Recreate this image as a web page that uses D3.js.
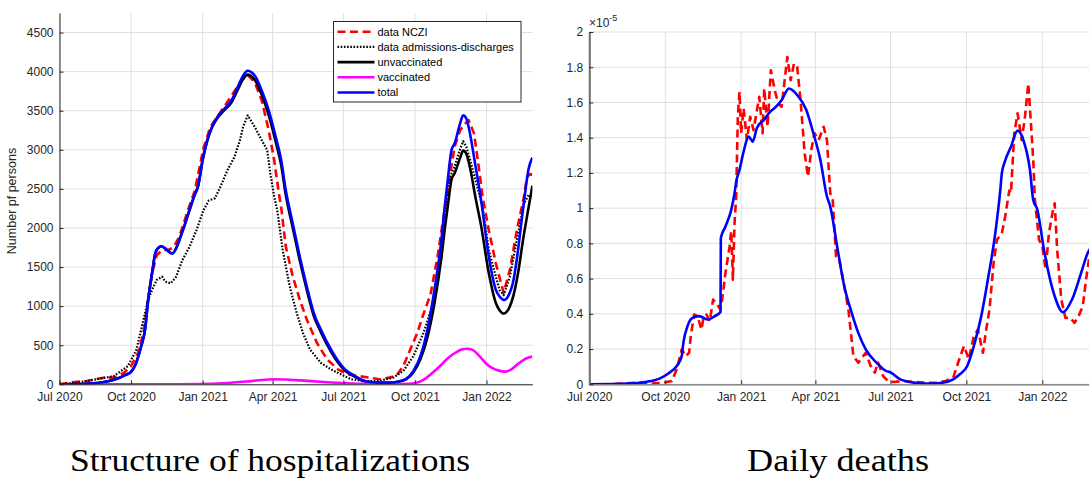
<!DOCTYPE html>
<html>
<head>
<meta charset="utf-8">
<script src="https://cdn.jsdelivr.net/npm/d3@7"></script>
<style>
  html, body { margin: 0; padding: 0; background: #fff; }
  svg { display: block; }
  .tick text { font-family: "Liberation Sans", Arial, sans-serif; font-size: 12px; fill: #262626; }
</style>
</head>
<body>
<svg id="fig" width="1089" height="479"></svg>
<script>
// Days are counted from 1 July 2020.
const tickDates = ["2020-07-01", "2020-10-01", "2021-01-01", "2021-04-01", "2021-07-01", "2021-10-01", "2022-01-01"];
const hospTicks = [0, 500, 1000, 1500, 2000, 2500, 3000, 3500, 4000, 4500];
const deathTicks = [0, 0.2, 0.4, 0.6, 0.8, 1, 1.2, 1.4, 1.6, 1.8, 2];

// Hospitalised persons: [day, persons]
const hospNczi = [[0,0],[12,21],[35,42],[57,85],[70,85],[83,148],[92,233],[101,402],[108,657],[112,953],[119,1420],[125,1652],[132,1716],[141,1724],[147,1758],[154,1885],[165,2224],[174,2479],[185,3017],[194,3292],[207,3483],[220,3674],[234,3885],[242,3955],[251,3864],[260,3631],[269,3250],[276,2869],[282,2445],[285,2267],[291,1758],[300,1377],[309,1080],[318,826],[331,530],[344,318],[358,191],[371,127],[384,106],[398,85],[411,64],[424,85],[433,110],[442,233],[451,445],[460,657],[468,900],[477,1150],[486,1630],[495,2220],[499,2480],[504,2800],[508,3040],[515,3250],[521,3330],[526,3380],[533,3207],[539,2784],[544,2400],[552,1970],[561,1547],[571,1170],[579,1462],[588,1970],[597,2394],[601,2650],[605,2690],[608,2680]];
const hospAdmDis = [[0,0],[20,15],[35,42],[70,106],[88,233],[99,445],[105,699],[114,1080],[119,1208],[125,1335],[132,1377],[136,1313],[143,1292],[150,1377],[158,1589],[167,1758],[176,1970],[185,2224],[192,2352],[200,2381],[207,2530],[216,2741],[225,2911],[232,3123],[236,3292],[242,3440],[251,3292],[260,3123],[267,2996],[271,2700],[276,2403],[280,2224],[287,1716],[296,1250],[305,911],[313,657],[322,445],[336,275],[349,191],[362,127],[375,64],[393,42],[411,42],[429,85],[442,170],[455,360],[468,657],[482,1080],[491,1631],[499,2500],[504,2700],[508,2784],[514,2980],[519,3110],[523,3040],[528,2869],[537,2530],[544,2267],[552,1716],[561,1377],[566,1200],[571,1140],[579,1377],[588,1843],[597,2309],[603,2420],[608,2380]];
const hospUnvacc = [[0,0],[20,2],[35,8],[57,30],[74,72],[85,120],[92,160],[98,260],[102,380],[105,487],[110,700],[114,1080],[119,1420],[123,1670],[127,1745],[131,1767],[135,1745],[139,1710],[145,1673],[150,1740],[154,1843],[160,2010],[167,2224],[174,2428],[178,2528],[184,2866],[190,3118],[196,3285],[203,3408],[212,3507],[221,3605],[229,3765],[236,3905],[242,3962],[247,3937],[252,3880],[260,3703],[269,3442],[278,3100],[285,2805],[291,2417],[300,1998],[309,1580],[318,1205],[327,872],[336,668],[349,420],[358,280],[367,177],[380,96],[393,36],[411,18],[425,20],[433,28],[446,66],[455,155],[464,320],[473,600],[482,1030],[491,1620],[495,1960],[499,2260],[504,2616],[508,2700],[515,2895],[519,2990],[523,2950],[528,2760],[535,2380],[542,2030],[552,1420],[561,1040],[566,945],[571,905],[578,975],[584,1150],[590,1450],[596,1850],[602,2200],[608,2540]];
const hospVacc = [[0,0],[150,0],[180,2],[210,12],[240,35],[260,55],[275,65],[290,62],[310,50],[340,30],[370,14],[400,5],[430,2],[450,8],[460,22],[470,70],[480,150],[490,240],[500,340],[510,410],[517,445],[524,455],[531,440],[540,360],[548,270],[556,210],[565,175],[573,162],[580,185],[590,265],[600,330],[608,355]];
const hospTotal = [[0,0],[20,2],[35,8],[57,30],[74,72],[85,120],[92,160],[98,260],[102,380],[105,487],[110,700],[114,1080],[119,1420],[123,1670],[127,1745],[131,1767],[135,1745],[139,1710],[145,1673],[150,1740],[154,1843],[160,2010],[167,2224],[174,2430],[178,2530],[184,2869],[190,3123],[196,3292],[203,3419],[212,3525],[221,3631],[229,3800],[236,3949],[242,4012],[247,3990],[252,3936],[260,3758],[269,3504],[278,3165],[285,2869],[291,2479],[300,2055],[309,1631],[318,1250],[327,911],[336,699],[349,445],[358,300],[367,191],[380,106],[393,42],[411,21],[425,22],[433,30],[446,72],[455,170],[464,360],[473,699],[482,1208],[491,1843],[495,2250],[499,2600],[504,2996],[508,3080],[515,3335],[519,3440],[523,3400],[526,3292],[535,2784],[542,2360],[552,1631],[561,1208],[567,1110],[572,1080],[578,1150],[583,1300],[588,1600],[593,2000],[598,2400],[603,2750],[608,2900]];

// Daily deaths per capita, in units of 1e-5: [day, value]
const deathsData = [[0,0],[25,0],[59,0.009],[76,0.004],[89,0.008],[100,0.019],[106,0.085],[112,0.198],[117,0.16],[121,0.18],[123,0.274],[127,0.396],[131,0.387],[136,0.311],[138,0.368],[142,0.396],[146,0.358],[150,0.481],[155,0.453],[159,0.425],[161,0.481],[165,0.632],[170,0.783],[172,0.87],[174,0.594],[176,0.915],[178,1.066],[180,1.519],[182,1.66],[184,1.425],[187,1.566],[191,1.387],[195,1.519],[199,1.443],[206,1.632],[210,1.425],[212,1.679],[216,1.462],[220,1.783],[225,1.664],[229,1.594],[233,1.575],[240,1.858],[244,1.726],[248,1.821],[252,1.8],[256,1.613],[261,1.311],[265,1.179],[269,1.33],[273,1.425],[278,1.387],[284,1.462],[288,1.387],[292,1.085],[295,1.047],[299,0.726],[303,0.708],[309,0.557],[314,0.425],[320,0.16],[326,0.123],[335,0.179],[341,0.104],[346,0.066],[350,0.123],[356,0.047],[362,0.019],[369,0.013],[381,0.019],[394,0.013],[407,0.009],[420,0.009],[432,0.019],[441,0.038],[447,0.123],[454,0.217],[460,0.142],[466,0.274],[471,0.311],[477,0.179],[481,0.311],[485,0.425],[490,0.689],[494,0.821],[500,0.858],[504,0.953],[509,1.1],[511,1.085],[515,1.425],[519,1.538],[524,1.387],[528,1.519],[532,1.708],[536,1.425],[538,1.274],[540,1.047],[545,0.821],[549,0.783],[553,0.651],[557,0.858],[562,0.991],[564,1.028],[567,0.764],[572,0.481],[577,0.377],[583,0.377],[588,0.349],[593,0.387],[598,0.443],[602,0.594],[606,0.726]];
const deathsModel = [[0,0],[47,0.004],[68,0.013],[85,0.032],[97,0.066],[106,0.104],[112,0.16],[114,0.236],[119,0.33],[125,0.377],[133,0.387],[144,0.368],[152,0.387],[159,0.41],[159.4,0.83],[165,0.896],[172,0.99],[176,1.085],[178,1.15],[182,1.217],[187,1.321],[193,1.406],[196,1.39],[198,1.377],[203,1.453],[213,1.509],[219,1.547],[225,1.57],[233,1.613],[242,1.679],[246,1.67],[252,1.642],[263,1.557],[271,1.434],[280,1.274],[288,1.066],[292,1.009],[301,0.764],[309,0.557],[318,0.406],[326,0.292],[335,0.198],[348,0.123],[360,0.075],[364,0.07],[366,0.065],[377,0.028],[394,0.009],[411,0.004],[428,0.009],[441,0.028],[449,0.057],[458,0.104],[466,0.217],[475,0.387],[483,0.594],[492,0.858],[498,1.1],[500,1.2],[504,1.27],[511,1.349],[519,1.44],[526,1.387],[534,1.217],[538,1.047],[543,0.991],[551,0.764],[564,0.5],[574,0.409],[585,0.481],[596,0.632],[604,0.745],[607,0.77]];

const legendItems = ["data NCZI", "data admissions-discharges", "unvaccinated", "vaccinated", "total"];

const svg = d3.select("#fig");
const ink = "#262626";
const gridColor = "#dfdfdf";
const START = Date.UTC(2020, 6, 1);
const toDate = d => new Date(START + d * 864e5);
const tickValues = tickDates.map(s => new Date(s + "T00:00:00Z"));
const fmtMonth = d3.utcFormat("%b %Y");

const styles = {
  nczi:   { stroke: "#ff0000", width: 2.6, dash: "8,4.5" },
  admdis: { stroke: "#000000", width: 2.2, dash: "1.6,1.6" },
  unvacc: { stroke: "#000000", width: 2.6, dash: null },
  vacc:   { stroke: "#ff00ff", width: 2.6, dash: null },
  total:  { stroke: "#0000ff", width: 2.6, dash: null }
};

function panel(opt) {
  const g = svg.append("g");
  const x = d3.scaleUtc().domain([toDate(0), toDate(opt.lastDay)]).range([opt.x0, opt.x1]);
  const y = d3.scaleLinear().domain([0, opt.yMax]).range([opt.yBottom, opt.yTop]);

  // grid
  g.append("g").selectAll("line").data(tickValues).join("line")
    .attr("x1", d => x(d)).attr("x2", d => x(d))
    .attr("y1", opt.yBottom).attr("y2", opt.yTop)
    .attr("stroke", gridColor).attr("stroke-width", 1);
  g.append("g").selectAll("line").data(opt.yTicks).join("line")
    .attr("x1", opt.x0).attr("x2", opt.x1)
    .attr("y1", d => y(d)).attr("y2", d => y(d))
    .attr("stroke", gridColor).attr("stroke-width", 1);

  const clipId = "clip" + opt.id;
  svg.append("defs").append("clipPath").attr("id", clipId)
    .append("rect").attr("x", opt.x0).attr("y", opt.yTop - 5)
    .attr("width", opt.x1 - opt.x0).attr("height", opt.yBottom - opt.yTop + 5);

  const lines = g.append("g").attr("clip-path", `url(#${clipId})`);
  opt.series.forEach(s => {
    const st = styles[s.style];
    const line = d3.line().x(d => x(toDate(d[0]))).y(d => y(d[1]))
      .curve(s.smooth ? d3.curveMonotoneX : d3.curveLinear);
    lines.append("path").datum(s.data)
      .attr("d", line)
      .attr("fill", "none")
      .attr("stroke", st.stroke)
      .attr("stroke-width", st.width)
      .attr("stroke-dasharray", st.dash)
      .attr("stroke-linejoin", "round");
  });

  // axes (ticks pointing inwards)
  const ax = g.append("g").attr("transform", `translate(0,${opt.yBottom})`)
    .call(d3.axisBottom(x).tickValues(tickValues).tickFormat(fmtMonth)
      .tickSizeInner(-4).tickSizeOuter(0).tickPadding(8));
  ax.select(".domain").attr("stroke", opt.axisColor).attr("stroke-width", opt.xAxisWidth);
  ax.selectAll(".tick line").attr("stroke", ink);

  const ay = g.append("g").attr("transform", `translate(${opt.x0},0)`)
    .call(d3.axisLeft(y).tickValues(opt.yTicks).tickFormat(opt.yFormat)
      .tickSizeInner(-4).tickSizeOuter(0).tickPadding(6));
  ay.select(".domain").attr("stroke", opt.axisColor).attr("stroke-width", opt.yAxisWidth);
  ay.selectAll(".tick line").attr("stroke", ink);
  return { g, x, y };
}

// Left: structure of hospitalizations
const left = panel({
  id: "H", x0: 59.5, x1: 532.4, lastDay: 608,
  yBottom: 384.3, yTop: 13, yMax: 4750, yTicks: hospTicks,
  yFormat: d => String(d), axisColor: ink, xAxisWidth: 1, yAxisWidth: 1,
  series: [
    { data: hospNczi, style: "nczi", smooth: false },
    { data: hospAdmDis, style: "admdis", smooth: false },
    { data: hospUnvacc, style: "unvacc", smooth: true },
    { data: hospVacc, style: "vacc", smooth: true },
    { data: hospTotal, style: "total", smooth: true }
  ]
});

svg.append("text")
  .attr("transform", `translate(16,201) rotate(-90)`)
  .attr("text-anchor", "middle")
  .attr("font-family", "Liberation Sans, Arial, sans-serif")
  .attr("font-size", 12.5)
  .attr("fill", ink)
  .text("Number pf persons");

// legend
const lg = svg.append("g");
lg.append("rect").attr("x", 333.5).attr("y", 21.5).attr("width", 187.5).attr("height", 80.5)
  .attr("fill", "#fff").attr("stroke", ink).attr("stroke-width", 1);
const legendStyles = ["nczi", "admdis", "unvacc", "vacc", "total"];
legendItems.forEach((name, i) => {
  const st = styles[legendStyles[i]];
  const yy = 31.7 + i * 15.2;
  lg.append("line").attr("x1", 337.5).attr("x2", 374.5).attr("y1", yy).attr("y2", yy)
    .attr("stroke", st.stroke).attr("stroke-width", st.width)
    .attr("stroke-dasharray", st.dash);
  lg.append("text").attr("x", 377.5).attr("y", yy).attr("dy", "0.35em")
    .attr("font-family", "Liberation Sans, Arial, sans-serif").attr("font-size", 11)
    .attr("fill", "#000").text(name);
});

// Right: daily deaths
const right = panel({
  id: "D", x0: 589.3, x1: 1089.6, lastDay: 606.3,
  yBottom: 384.3, yTop: 32, yMax: 2, yTicks: deathTicks,
  yFormat: d => String(+d.toFixed(1)), axisColor: "#6e6e6e", xAxisWidth: 1.2, yAxisWidth: 2,
  series: [
    { data: deathsData, style: "nczi", smooth: false },
    { data: deathsModel, style: "total", smooth: true }
  ]
});

const expo = svg.append("text").attr("x", 589).attr("y", 27)
  .attr("font-family", "Liberation Sans, Arial, sans-serif").attr("font-size", 12).attr("fill", ink);
expo.append("tspan").text("\u00d710");
expo.append("tspan").attr("font-size", 9).attr("dy", -6).text("-5");

// sub-captions
const capFont = "'URW Palladio L', 'Palatino Linotype', 'Liberation Serif', serif";
svg.append("text").attr("x", 70).attr("y", 471)
  .attr("font-family", capFont).attr("font-size", 32).attr("fill", "#000")
  .attr("textLength", 400).attr("lengthAdjust", "spacingAndGlyphs")
  .text("Structure of hospitalizations");
svg.append("text").attr("x", 747).attr("y", 471)
  .attr("font-family", capFont).attr("font-size", 32).attr("fill", "#000")
  .attr("textLength", 182).attr("lengthAdjust", "spacingAndGlyphs")
  .text("Daily deaths");
</script>
</body>
</html>
